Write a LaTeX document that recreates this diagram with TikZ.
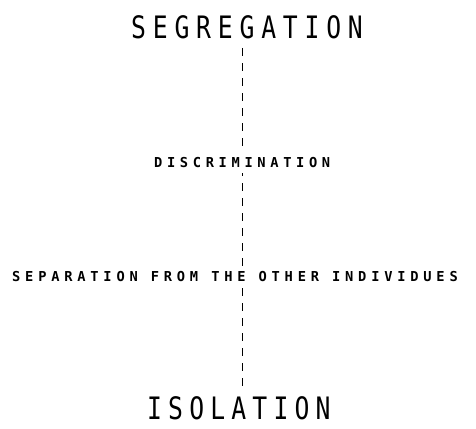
\documentclass[tikz,border=0pt]{standalone}
\usepackage{fontspec}
\newfontfamily\bigfont[FakeStretch=0.8,LetterSpace=22]{DejaVu Sans Mono}
\newfontfamily\bigfontb[FakeStretch=0.8,LetterSpace=20]{DejaVu Sans Mono}
\newfontfamily\smallfont[LetterSpace=34]{DejaVu Sans Mono Bold}
\newfontfamily\smallfontb[LetterSpace=35]{DejaVu Sans Mono Bold}
\begin{document}
\begin{tikzpicture}[x=1pt,y=-1pt,
  big/.style={font=\bigfont\fontsize{30.9}{32}\selectfont,inner sep=0pt,anchor=west},
  bigb/.style={font=\bigfontb\fontsize{30.9}{32}\selectfont,inner sep=0pt,anchor=west},
  small/.style={font=\smallfont\fontsize{13.7}{15}\selectfont,inner xsep=0pt,inner ysep=5pt,anchor=west,fill=white},
  smallb/.style={small,font=\smallfontb\fontsize{13.7}{15}\selectfont},
  link/.style={line width=1pt,dash pattern=on 8pt off 7pt}]
\useasboundingbox (0,0) rectangle (476,428);
\coordinate (top) at (242,48);
\coordinate (bot) at (242,390);
\draw[link] (top) -- (bot);
\node[big] (seg) at (131,27) {SEGREGATION};
\node[small] (disc) at (154,163) {DISCRIMINATION};
\node[smallb] (sep) at (12,277) {SEPARATION FROM THE OTHER INDIVIDUES};
\node[bigb] (iso) at (147,408) {ISOLATION};
\end{tikzpicture}
\end{document}
